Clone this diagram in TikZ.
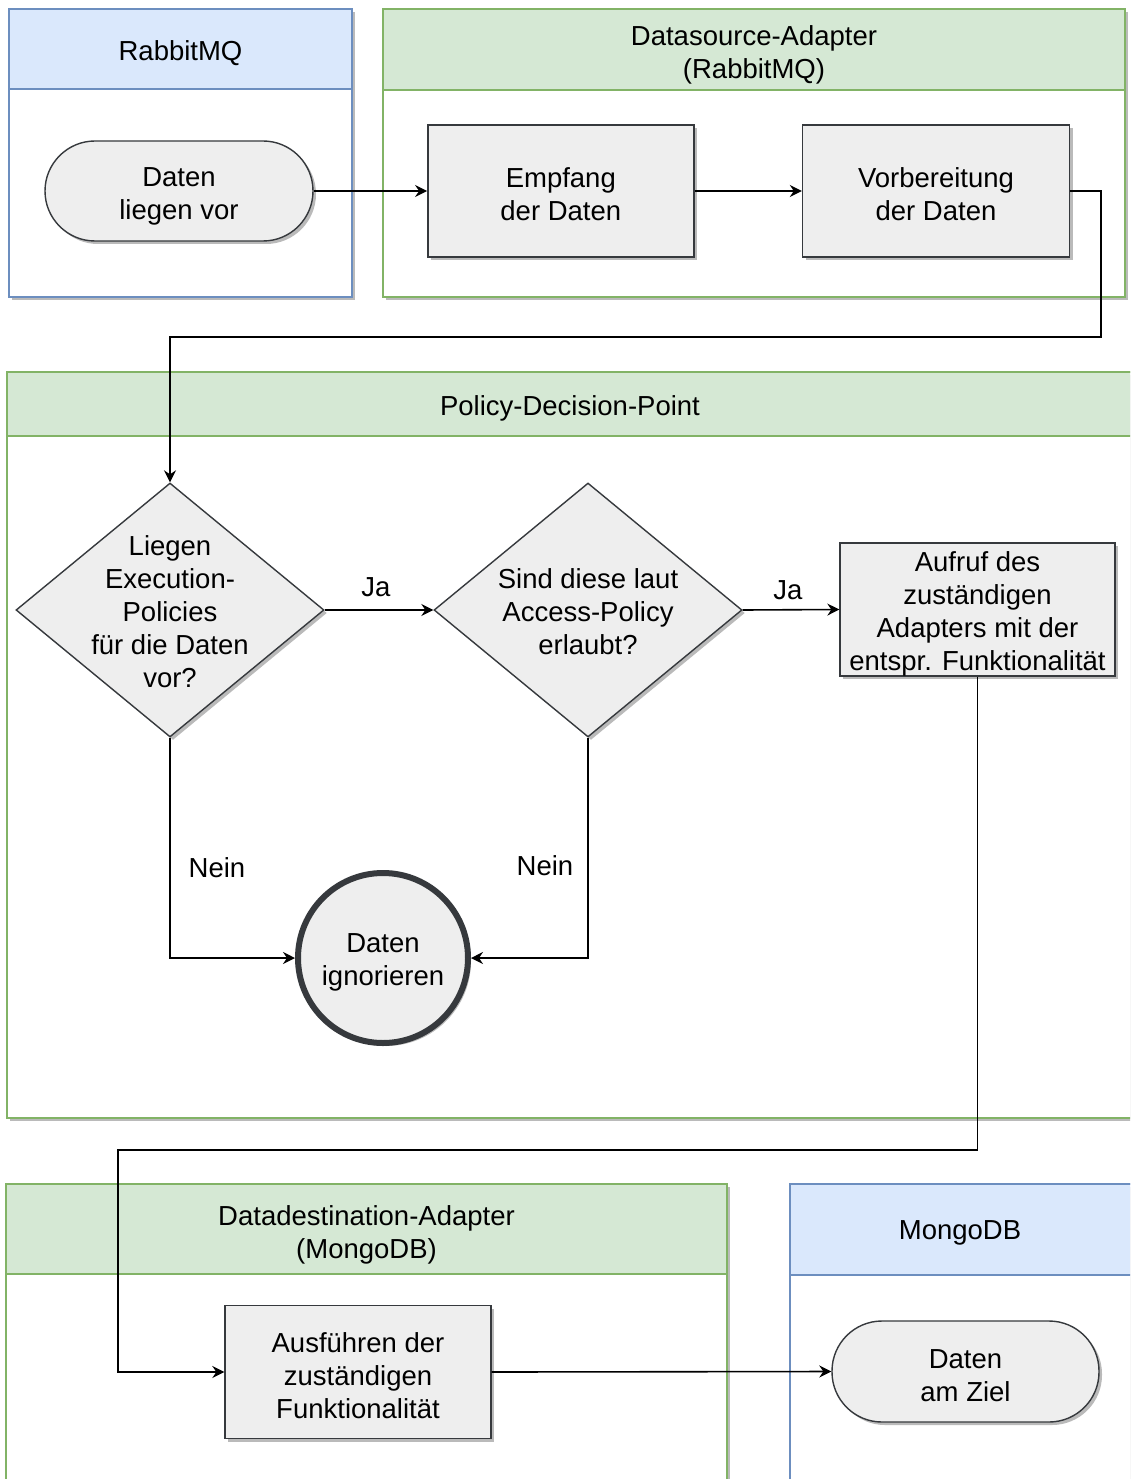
\documentclass[tikz,border=0pt]{standalone}
\usepackage{fontspec}
\setmainfont{Liberation Sans}
\usetikzlibrary{shapes.geometric,arrows.meta,shadows}
\definecolor{gfill}{HTML}{D5E8D4}
\definecolor{gline}{HTML}{82B366}
\definecolor{bfill}{HTML}{DAE8FC}
\definecolor{bline}{HTML}{6C8EBF}
\definecolor{nfill}{HTML}{EEEEEE}
\definecolor{nline}{HTML}{36393D}
\begin{document}
\begin{tikzpicture}[x=1pt,y=-1pt,
  txt/.style={font=\fontsize{27.5}{33}\selectfont, align=center, text=black},
  shad/.style={drop shadow={shadow xshift=3pt,shadow yshift=-3pt,fill=black!45,opacity=0.6}},
  gpool/.style={draw=gline, line width=1.5pt, fill=white, shad},
  bpool/.style={draw=bline, line width=1.5pt, fill=white, shad},
  ghead/.style={draw=gline, line width=1.5pt, fill=gfill},
  bhead/.style={draw=bline, line width=1.5pt, fill=bfill},
  procbox/.style={txt, draw=nline, fill=nfill, line width=1.4pt, shad, inner sep=0pt, rectangle},
  termbox/.style={txt, draw=nline, fill=nfill, line width=1.4pt, shad, inner sep=0pt, rounded corners=50pt},
  decbox/.style={diamond, draw=nline, fill=nfill, line width=1.4pt, shad, inner sep=0pt, minimum width=308pt, minimum height=254pt},
  endbox/.style={txt, circle, draw=nline, fill=nfill, line width=6pt, shad, inner sep=0pt, minimum size=170pt},
  arr/.style={draw=black, line width=1.6pt, -{Stealth[length=12pt,width=12pt,inset=4pt]}},
]
\useasboundingbox (0,0) rectangle (1130,1479);

% pools
\begin{scope}
\clip (0,0) rectangle (1130,1479);
\path[bpool] (9,9) rectangle (352,297);
\path[bhead] (9,9) rectangle (352,89);
\node[txt] (hRabbit) at (180.5,53) {RabbitMQ};

\path[gpool] (383,9) rectangle (1125,297);
\path[ghead] (383,9) rectangle (1125,90);
\node[txt] (hSource) at (754,55) {Datasource-Adapter\\(RabbitMQ)};

\path[gpool] (7,372) rectangle (1134,1118);
\path[ghead] (7,372) rectangle (1134,436);
\node[txt] (hPDP) at (570,408) {Policy-Decision-Point};

\path[gpool] (6,1184) rectangle (727,1495);
\path[ghead] (6,1184) rectangle (727,1274);
\node[txt] (hDest) at (366.5,1235) {Datadestination-Adapter\\(MongoDB)};

\path[bpool] (790,1184) rectangle (1136,1495);
\path[bhead] (790,1184) rectangle (1136,1275);
\node[txt] (hMongo) at (960,1233) {MongoDB};
\end{scope}

% nodes
\node[termbox, minimum width=268pt, minimum height=100pt] (start) at (179,191) {};
\node[txt] (startt) at (179,196) {Daten\\liegen vor};
\node[procbox, minimum width=266pt, minimum height=132pt] (emp) at (560.8,191) {};
\node[txt] (empt) at (560.8,194) {Empfang\\der Daten};
\node[procbox, minimum width=267pt, minimum height=132pt] (vor) at (936,191) {};
\node[txt] (vort) at (936,194) {Vorbereitung\\der Daten};

\node[decbox] (d1) at (170,610) {};
\node[txt] (d1t) at (170,612) {Liegen\\Execution-\\Policies\\für die Daten\\vor?};
\node[decbox] (d2) at (588,610) {};
\node[txt] (d2t) at (588,612) {Sind diese laut\\Access-Policy\\erlaubt?};
\node[procbox, minimum width=275pt, minimum height=133pt] (auf) at (977.5,609.5) {};
\node[txt] (auft) at (977.5,613.5) {Aufruf des\\zuständigen\\Adapters mit der\\entspr. Funktionalität};
\node[endbox] (ign) at (383,958) {};
\node[txt] (ignt) at (383,962) {Daten\\ignorieren};

\node[procbox, minimum width=266pt, minimum height=133pt] (aus) at (358,1372) {};
\node[txt] (aust) at (358,1376) {Ausführen der\\zuständigen\\Funktionalität};
\node[termbox, minimum width=267pt, minimum height=101pt] (ziel) at (965.5,1371.5) {};
\node[txt] (zielt) at (965.5,1375.5) {Daten\\am Ziel};

% labels
\node[txt] (ja1) at (376,587) {Ja};
\node[txt] (ja2) at (788,590) {Ja};
\node[txt] (nein1) at (217,868) {Nein};
\node[txt] (nein2) at (545,866) {Nein};

% connectors
\coordinate (k1) at (1101,337);
\coordinate (k2) at (118,1150);
\draw[arr] (start.east) -- (emp.west);
\draw[arr] (emp.east) -- (vor.west);
\draw[arr] (vor.east) -| (k1) -| (d1.north);
\draw[arr] (d1.east) -- (d2.west);
\draw[arr] (d2.east) -- (auf.west);
\draw[arr] (d1.south) |- (ign.west);
\draw[arr] (d2.south) |- (ign.east);
\draw[arr] (auf.south) |- (k2) |- (aus.west);
\draw[arr] (aus.east) -- (ziel.west);
\end{tikzpicture}
\end{document}
